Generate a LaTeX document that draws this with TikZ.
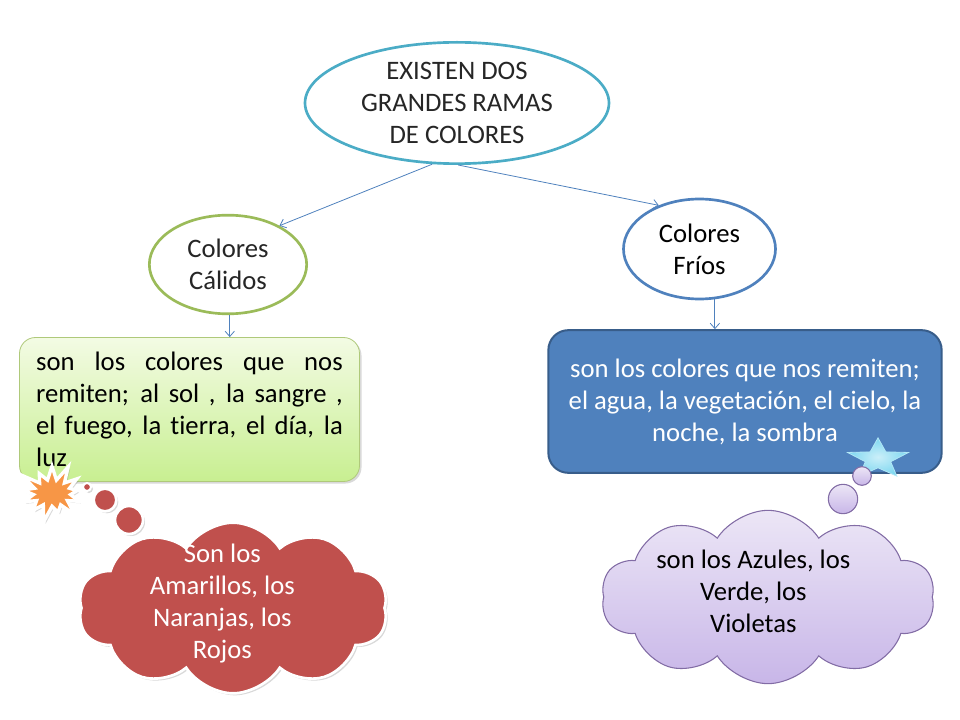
\documentclass[tikz,border=0pt]{standalone}
\usepackage{fontspec}
\setmainfont{Carlito}[Ligatures=NoCommon]
\usetikzlibrary{shapes.geometric,shapes.symbols,shadows,arrows.meta}
\definecolor{azul}{RGB}{79,129,189}
\definecolor{azulosc}{RGB}{56,93,138}
\definecolor{celeste}{RGB}{75,172,198}
\definecolor{verde}{RGB}{155,187,89}
\definecolor{verdeclaro}{RGB}{243,251,228}
\definecolor{verdelima}{RGB}{200,239,145}
\definecolor{rojo}{RGB}{192,80,77}
\definecolor{naranja}{RGB}{247,150,70}
\definecolor{lila}{RGB}{130,108,165}
\definecolor{lilaclaro}{RGB}{236,230,246}
\definecolor{lilaosc}{RGB}{200,182,232}
\definecolor{cielo}{RGB}{125,215,240}
\tikzset{elip/.style={ellipse,draw,line width=2pt,fill=white,inner sep=0pt,align=center,text=black!85},
  flecha/.style={-{Straight Barb[length=4pt,width=7pt]},draw=azul,line width=0.6pt},
  sombra/.style={drop shadow={shadow xshift=1.5pt,shadow yshift=-1.5pt,opacity=0.3}},
  nube/.style={cloud,cloud puffs=10,cloud puff arc=115,cloud ignores aspect,inner sep=0pt},
  burb/.style={circle,inner sep=0pt}}
\begin{document}
\begin{tikzpicture}[x=0.75pt,y=-0.75pt,font=\fontsize{20pt}{24pt}\selectfont]
    \useasboundingbox (0,0) rectangle (960,720);
    \node[elip,draw=celeste,minimum width=228pt,minimum height=91pt] (raiz) at (457,103) {EXISTEN DOS\\GRANDES RAMAS\\DE COLORES};
    \node[elip,draw=verde,minimum width=118pt,minimum height=74pt] (cal) at (228,264.5) {Colores\\Cálidos};
    \node[elip,draw=azul,text=black,minimum width=114pt,minimum height=75pt] (fri) at (699.5,249) {Colores\\Fríos};
    \node[rectangle,rounded corners=12pt,draw=verde!80!white,line width=0.6pt,top color=verdeclaro,bottom color=verdelima,sombra,
      minimum width=255pt,minimum height=108pt,text width=230pt,align=justify] (bcal) at (189.5,409.5)
      {son los colores que nos\linebreak remiten; al sol , la sangre ,\linebreak el fuego, la tierra, el día, la\linebreak luz};
    \node[rectangle,rounded corners=15pt,draw=azulosc,line width=1.5pt,fill=azul,text=white,
      minimum width=295pt,minimum height=107pt,align=center] (bfri) at (745,401.5)
      {son los colores que nos remiten;\\el agua, la vegetación, el cielo, la\\noche, la sombra};
    \draw[flecha] (raiz.248) -- (cal.37);
    \draw[flecha] (raiz.271) -- (fri.133);
    \draw[flecha] (cal.272) -- (cal.272 |- bcal.north);
    \draw[flecha] (fri.287) -- (fri.287 |- bfri.north);
    \node[starburst,starburst points=13,starburst point height=14pt,fill=naranja,draw=white,line width=2.5pt,sombra,
      minimum width=56pt,minimum height=48pt,inner sep=0pt] (chispa) at (52,493) {};
    \node[burb,fill=rojo,draw=white,line width=1.5pt,sombra,minimum size=6pt] (r1) at (87,487) {};
    \node[burb,fill=rojo,draw=white,line width=2pt,sombra,minimum size=17pt] (r2) at (105,500) {};
    \node[burb,fill=rojo,draw=white,line width=2pt,sombra,minimum size=21pt] (r3) at (129,520) {};
    \node[nube,fill=rojo,draw=white,line width=2pt,sombra,minimum width=232pt,minimum height=128pt] (ncal) at (233,608) {};
    \node[text=white,align=center] (tcal) at (ncal.center) [xshift=-8pt,yshift=3pt] {Son los\\Amarillos, los\\Naranjas, los\\Rojos};
    \begin{scope}[shift={(878,459)},yscale=0.66]
      \node[star,star points=5,star point ratio=2.4,minimum size=48pt,inner sep=0pt,transform shape,
        inner color=white!60!cielo,outer color=cielo,draw=white!40!cielo,line width=0.6pt] (estrella) at (0,0) {};
    \end{scope}
    \node[burb,top color=lilaclaro,bottom color=lilaosc,draw=lila,line width=0.8pt,minimum size=14pt] (l1) at (862,476) {};
    \node[burb,top color=lilaclaro,bottom color=lilaosc,draw=lila,line width=0.8pt,minimum size=22pt] (l2) at (843,499) {};
    \node[nube,top color=lilaclaro,bottom color=lilaosc,draw=lila,line width=0.8pt,minimum width=250pt,minimum height=130pt] (nfri) at (768,597) {};
    \node[align=center] (tfri) at (nfri.center) [xshift=-11pt,yshift=4pt] {son los Azules, los\\Verde, los\\Violetas};
\end{tikzpicture}
\end{document}
